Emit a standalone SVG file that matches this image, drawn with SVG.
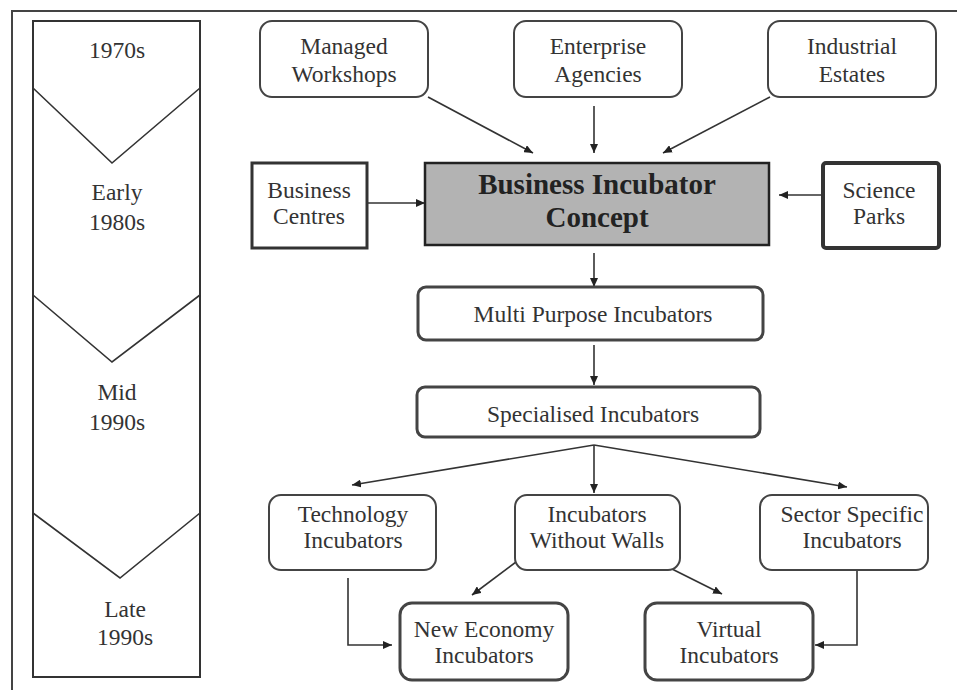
<svg xmlns="http://www.w3.org/2000/svg" width="957" height="690" viewBox="0 0 957 690">
<defs>
<style>
.t{font-family:"Liberation Serif","Times New Roman",serif;font-size:23.5px;fill:#333;text-anchor:middle}
.b{font-family:"Liberation Serif","Times New Roman",serif;font-size:29px;font-weight:bold;fill:#222;text-anchor:middle}
.rb{fill:#fff;stroke:#444;stroke-width:2}
.rb3{fill:#fff;stroke:#444;stroke-width:3}
.sq{fill:#fff;stroke:#333;stroke-width:3}
.ln{fill:none;stroke:#333;stroke-width:1.6}
.c{fill:none;stroke:#333;stroke-width:1.6;marker-end:url(#ah)}
</style>
<marker id="ah" markerUnits="userSpaceOnUse" markerWidth="10" markerHeight="8" refX="9" refY="4" orient="auto">
<path d="M0,0 L9,4 L0,8 z" fill="#222"/>
</marker>
</defs>
<rect width="957" height="690" fill="#fff"/>
<path d="M12,690 V11 H957" fill="none" stroke="#444" stroke-width="2"/>
<g id="timeline">
<rect x="33" y="21" width="167" height="656" fill="#fff" stroke="#333" stroke-width="2"/>
<path class="ln" d="M33,88 L112,163 L200,88"/>
<path class="ln" d="M33,295 L112,362 L200,295"/>
<path class="ln" d="M33,513 L120,578 L200,513"/>
<text class="t" x="117" y="58">1970s</text>
<text class="t" x="117" y="200">Early</text>
<text class="t" x="117" y="230">1980s</text>
<text class="t" x="117" y="400">Mid</text>
<text class="t" x="117" y="430">1990s</text>
<text class="t" x="125" y="617">Late</text>
<text class="t" x="125" y="645">1990s</text>
</g>
<g id="connectors">
<path class="c" d="M428,97 L533,153"/>
<path class="c" d="M594,106 L594,153"/>
<path class="c" d="M770,97 L663,153"/>
<path class="c" d="M367,203 L425,203"/>
<path class="c" d="M823,195 L779,195"/>
<path class="c" d="M594,253 L594,287"/>
<path class="c" d="M594,345 L594,385"/>
<path class="c" d="M594,445 L352,485"/>
<path class="c" d="M594,445 L594,493"/>
<path class="c" d="M594,445 L847,487"/>
<path class="c" d="M348,578 L348,645 L392,645"/>
<path class="c" d="M516,562 L472,595"/>
<path class="c" d="M672,569 L722,594"/>
<path class="c" d="M857,570 L857,645 L815,645"/>
</g>
<g id="managed-workshops">
<rect class="rb" x="260" y="21" width="168" height="76" rx="12"/>
<text class="t" x="344" y="54">Managed</text>
<text class="t" x="344" y="82">Workshops</text>
</g>
<g id="enterprise-agencies">
<rect class="rb" x="514" y="21" width="168" height="76" rx="12"/>
<text class="t" x="598" y="54">Enterprise</text>
<text class="t" x="598" y="82">Agencies</text>
</g>
<g id="industrial-estates">
<rect class="rb" x="768" y="21" width="168" height="76" rx="12"/>
<text class="t" x="852" y="54">Industrial</text>
<text class="t" x="852" y="82">Estates</text>
</g>
<g id="business-centres">
<rect class="sq" x="252" y="163" width="115" height="85"/>
<text class="t" x="309" y="198">Business</text>
<text class="t" x="309" y="224">Centres</text>
</g>
<g id="business-incubator-concept">
<rect x="425" y="163" width="344" height="82" fill="#b3b3b3" stroke="#222" stroke-width="2.5"/>
<text class="b" x="597" y="194">Business Incubator</text>
<text class="b" x="597" y="227">Concept</text>
</g>
<g id="science-parks">
<rect x="823" y="163" width="116" height="85" rx="3" fill="#fff" stroke="#333" stroke-width="4"/>
<text class="t" x="879" y="198">Science</text>
<text class="t" x="879" y="224">Parks</text>
</g>
<g id="multi-purpose">
<rect class="rb3" x="418" y="287" width="345" height="53" rx="8"/>
<text class="t" x="593" y="322">Multi Purpose Incubators</text>
</g>
<g id="specialised">
<rect class="rb3" x="417" y="387" width="343" height="50" rx="8"/>
<text class="t" x="593" y="422">Specialised Incubators</text>
</g>
<g id="technology">
<rect class="rb" x="269" y="495" width="167" height="75" rx="12"/>
<text class="t" x="353" y="522">Technology</text>
<text class="t" x="353" y="548">Incubators</text>
</g>
<g id="without-walls">
<rect class="rb" x="515" y="495" width="165" height="75" rx="12"/>
<text class="t" x="597" y="522">Incubators</text>
<text class="t" x="597" y="548">Without Walls</text>
</g>
<g id="sector-specific">
<rect class="rb" x="760" y="495" width="168" height="75" rx="12"/>
<text class="t" x="852" y="522">Sector Specific</text>
<text class="t" x="852" y="548">Incubators</text>
</g>
<g id="new-economy">
<rect class="rb3" x="400" y="603" width="168" height="77" rx="12"/>
<text class="t" x="484" y="637">New Economy</text>
<text class="t" x="484" y="663">Incubators</text>
</g>
<g id="virtual">
<rect class="rb3" x="645" y="603" width="168" height="77" rx="12"/>
<text class="t" x="729" y="637">Virtual</text>
<text class="t" x="729" y="663">Incubators</text>
</g>
</svg>
